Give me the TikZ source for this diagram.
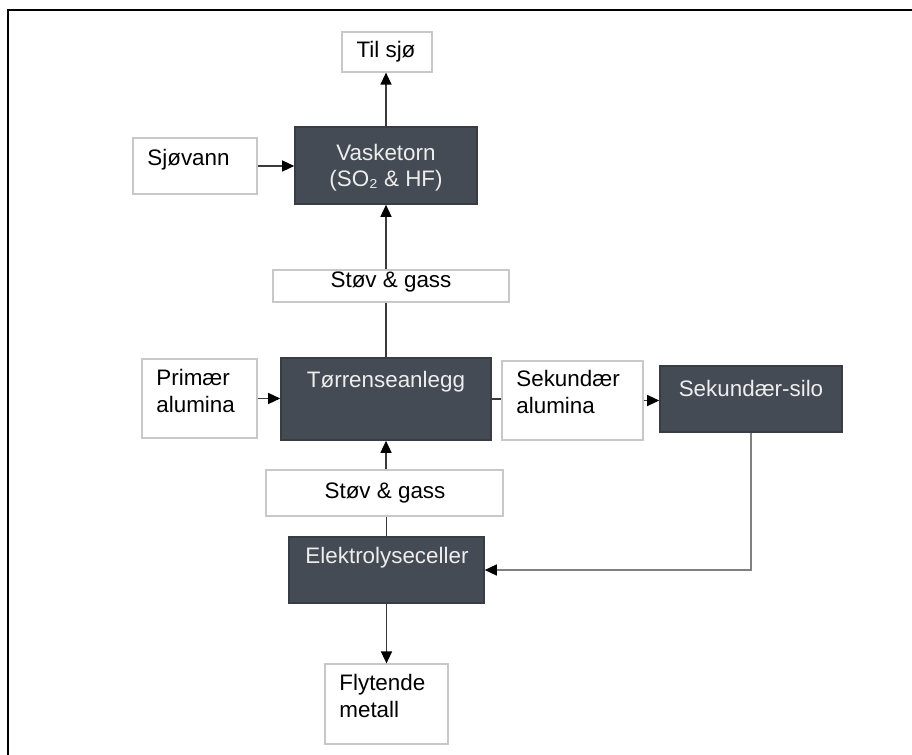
\documentclass[tikz,border=0pt]{standalone}
\usepackage{fontspec}
\setmainfont{Liberation Sans}
\usetikzlibrary{arrows.meta,fit}
\definecolor{darkfill}{HTML}{454B54}
\definecolor{darkline}{HTML}{383D44}
\definecolor{lightline}{HTML}{C8C8C8}
\definecolor{ltext}{HTML}{EDEDED}
\definecolor{conn}{HTML}{3A3A3A}
\definecolor{grayconn}{HTML}{808080}
\tikzset{
  dbox/.style={draw=darkline, fill=darkfill, line width=0.8pt, inner sep=0pt},
  wbox/.style={draw=lightline, fill=white, line width=0.6pt, inner sep=0pt},
  dtext/.style={text=ltext, font=\fontsize{11.2}{13.5}\selectfont, inner sep=0pt},
  wtext/.style={text=black, font=\fontsize{11.2}{13.5}\selectfont, inner sep=0pt, align=left},
  conline/.style={draw=conn, line width=0.65pt},
  arr/.style={conline, -{Triangle[length=6pt,width=5.5pt,color=black]}},
  garr/.style={draw=grayconn, line width=0.7pt, -{Triangle[length=6pt,width=5.5pt,color=black]}}
}
\begin{document}
\begin{tikzpicture}[x=0.5pt,y=-0.5pt]
\useasboundingbox (0,0) rectangle (912,755);
\fill[white] (0,0) rectangle (912,755);
\draw[line width=1pt] (8,755) -- (8,10) -- (912,10);

% boxes
\node[wbox, fit={(342,32)(432,72)}] (til) {};
\node[wbox, fit={(133,138)(257,194)}] (sjo) {};
\node[dbox, fit={(295,127)(477,204)}] (vask) {};
\node[wbox, fit={(273,270)(509,302)}] (stov1) {};
\node[wbox, fit={(142,359)(257,438)}] (prim) {};
\node[dbox, fit={(281,358)(491,440)}] (tor) {};
\node[wbox, fit={(502,361)(643,440)}] (sek) {};
\node[dbox, fit={(660,366)(842,432)}] (silo) {};
\node[wbox, fit={(266,470)(503,516)}] (stov2) {};
\node[dbox, fit={(289,537)(484,603)}] (elek) {};
\node[wbox, fit={(325,664)(448,744)}] (flyt) {};

% texts
\node[wtext] (tTil) at (386,52) {Til sjø};
\node[wtext, anchor=west] (tSjo) at (147,160) {Sjøvann};
\node[dtext] (tVask1) at (386,152) {Vasketorn};
\node[dtext] (tVask2) at (386,181) {(SO₂ \& HF)};
\node[wtext] (tStov1) at (391,282) {Støv \& gass};
\node[wtext, anchor=north west] (tPrim) at (156,369) {Primær\\alumina};
\node[dtext] (tTor) at (386,382) {Tørrenseanlegg};
\node[wtext, anchor=north west] (tSek) at (516,370) {Sekundær\\alumina};
\node[dtext] (tSilo) at (751,388) {Sekundær-silo};
\node[wtext] (tStov2) at (385,493) {Støv \& gass};
\node[dtext] (tElek) at (387,558) {Elektrolyseceller};
\node[wtext, anchor=north west] (tFlyt) at (339,674) {Flytende\\metall};

% connectors
\draw[arr] (vask.north -| tor.north) -- (tor.north |- til.south);
\draw[arr] (sjo.east) -- (sjo.east -| vask.west);
\draw[conline] (tor.north) -- (tor.north |- stov1.south);
\draw[arr] (tor.north |- stov1.north) -- (tor.north |- vask.south);
\draw[arr] (prim.east) -- (prim.east -| tor.west);
\draw[conline] (tor.east) -- (tor.east -| sek.west);
\draw[arr] (sek.east) -- (sek.east -| silo.west);
\draw[garr] (silo.south) |- (elek.east);
\draw[arr] (tor.south |- stov2.north) -- (tor.south);
\draw[conline] (elek.north) -- (elek.north |- stov2.south);
\draw[arr] (elek.south) -- (elek.south |- flyt.north);
\end{tikzpicture}
\end{document}
